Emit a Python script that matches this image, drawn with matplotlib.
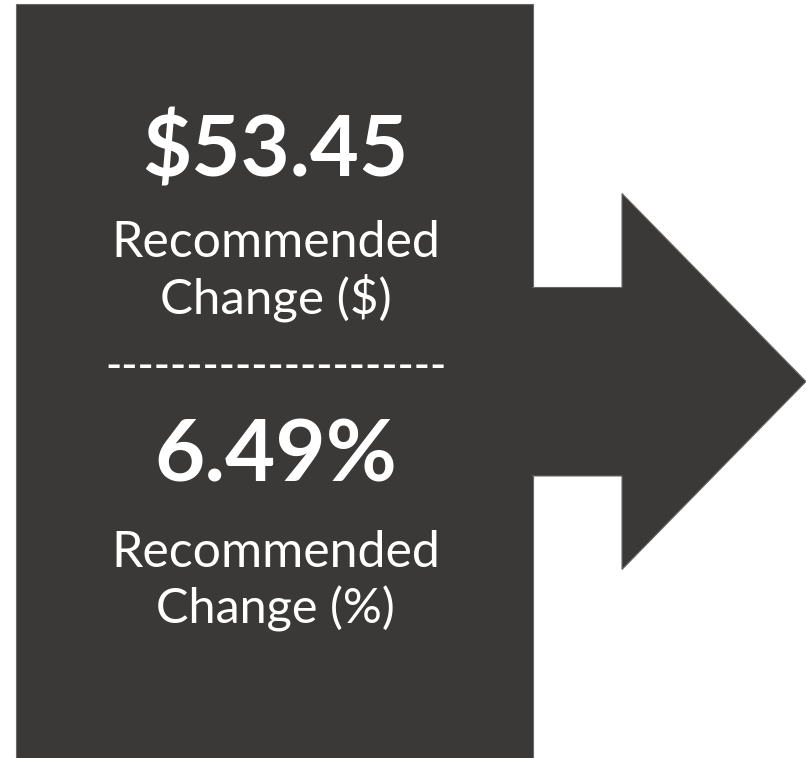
import matplotlib
matplotlib.use("Agg")
import matplotlib.pyplot as plt
from matplotlib.patches import Polygon, Rectangle

# ---- data ----
values = ["$53.45", "6.49%"]
label_line1 = ["Recommended", "Recommended"]
label_line2 = ["Change ($)", "Change (%)"]
divider = "-" * 21

FONT = "Lato"
FILL = "#3a3937"
EDGE = "#6a6866"
W, H = 806, 758

fig = plt.figure(figsize=(W / 100, H / 100), dpi=100)
ax = fig.add_axes([0, 0, 1, 1])
ax.set_xlim(0, W)
ax.set_ylim(H, 0)
ax.axis("off")

# box
ax.add_patch(Rectangle((15.5, 4), 517, 760, facecolor=FILL, edgecolor=EDGE, lw=0.8))
# arrow (shaft + head)
arrow = [(532.5, 287.5), (622, 287.5), (622, 193.5), (806, 381.5),
         (622, 569.5), (622, 476), (532.5, 476)]
ax.add_patch(Polygon(arrow, closed=True, facecolor=FILL, edgecolor=EDGE, lw=0.8))
# cover the seam between box and shaft
ax.add_patch(Rectangle((530, 288.3), 5, 187, facecolor=FILL, edgecolor="none"))

renderer = fig.canvas.get_renderer()


def fit_text(x, y, s, target_w, weight):
    t = ax.text(x, y, s, ha="center", va="baseline", color="white",
                fontsize=40, fontweight=weight, family=FONT)
    w = t.get_window_extent(renderer).width
    t.set_fontsize(40 * target_w / w)
    return t


cx = 275.5
# first block
fit_text(cx, 177, values[0], 266, "bold")
fit_text(cx, 257, label_line1[0], 328, "normal")
fit_text(cx, 314, label_line2[0], 231, "normal")
d = fit_text(cx + 1, 379, divider, 339, "normal")
d.set_fontweight("semibold")
# second block
fit_text(cx, 482, values[1], 242, "bold")
fit_text(cx, 567, label_line1[1], 328, "normal")
fit_text(cx, 624, label_line2[1], 239, "normal")

fig.savefig("out.png", dpi=100, facecolor="white")
